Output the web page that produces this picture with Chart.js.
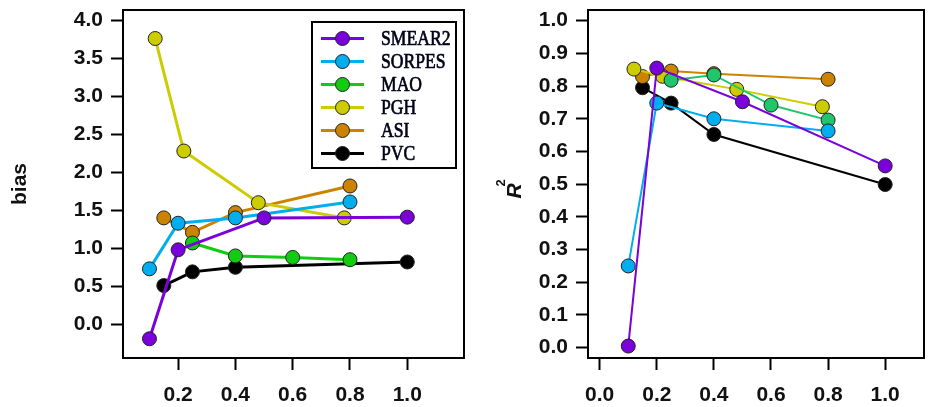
<!DOCTYPE html>
<html><head><meta charset="utf-8">
<script src="https://cdn.jsdelivr.net/npm/chart.js@4"></script>
<style>
html,body{margin:0;padding:0;background:#fff;}
#wrap{position:relative;width:932px;height:407px;overflow:hidden;background:#fff;}
#c1{position:absolute;left:0;top:0;}
#c2{position:absolute;left:468px;top:0;}
</style></head><body>
<div id="wrap"><canvas id="c1" width="472" height="407"></canvas><canvas id="c2" width="464" height="407"></canvas></div>
<script>
// ---- data ----
const seriesNames = ['SMEAR2', 'SORPES', 'MAO', 'PGH', 'ASI', 'PVC'];
const xSmear  = [0.10, 0.20, 0.50, 1.00];
const biasSmear = [-0.19, 0.98, 1.40, 1.41];
const r2Smear   = [0.005, 0.855, 0.752, 0.556];
const xSorpes = [0.10, 0.20, 0.40, 0.80];
const biasSorpes = [0.73, 1.33, 1.40, 1.61];
const r2Sorpes   = [0.25, 0.748, 0.70, 0.663];
const xMao = [0.25, 0.40, 0.60, 0.80];
const biasMao = [1.07, 0.90, 0.88, 0.85];
const r2Mao   = [0.818, 0.834, 0.742, 0.696];
const xPgh = [0.12, 0.22, 0.48, 0.78];
const biasPgh = [3.76, 2.28, 1.60, 1.40];
const r2Pgh   = [0.852, 0.830, 0.790, 0.737];
const xAsi = [0.15, 0.25, 0.40, 0.80];
const biasAsi = [1.40, 1.21, 1.47, 1.82];
const r2Asi   = [0.829, 0.846, 0.838, 0.821];
const xPvc = [0.15, 0.25, 0.40, 1.00];
const biasPvc = [0.51, 0.69, 0.75, 0.82];
const r2Pvc   = [0.795, 0.748, 0.652, 0.499];

const biasTicks = [0.0, 0.5, 1.0, 1.5, 2.0, 2.5, 3.0, 3.5, 4.0];
const r2Ticks = [0.0, 0.1, 0.2, 0.3, 0.4, 0.5, 0.6, 0.7, 0.8, 0.9, 1.0];
const xTicksLeft = [0.2, 0.4, 0.6, 0.8, 1.0];
const xTicksRight = [0.0, 0.2, 0.4, 0.6, 0.8, 1.0];

const colorsLeft  = ['#7a00dc', '#00aef0', '#12cc12', '#cccc00', '#cc8400', '#000000'];
const colorsRight = ['#7a00dc', '#00aef0', '#1fc76a', '#cccc00', '#cc8400', '#000000'];

const xs = [xSmear, xSorpes, xMao, xPgh, xAsi, xPvc];
const biasVals = [biasSmear, biasSorpes, biasMao, biasPgh, biasAsi, biasPvc];
const r2Vals = [r2Smear, r2Sorpes, r2Mao, r2Pgh, r2Asi, r2Pvc];

function pts(xArr, yArr) { return xArr.map((x, i) => ({x: x, y: yArr[i]})); }

function makeDatasets(vals, colors, lw) {
  return seriesNames.map((name, i) => ({
    label: name,
    data: pts(xs[i], vals[i]),
    borderColor: colors[i],
    backgroundColor: colors[i],
    pointBackgroundColor: colors[i],
    pointBorderColor: '#222',
    pointBorderWidth: 1,
    pointRadius: 7,
    borderWidth: lw,
    tension: 0,
    clip: false
  }));
}

const tickFont = {family: '"Liberation Sans", Arial, sans-serif', size: 21, weight: 'bold'};

function yScale(min, max, ticksArr, width, title) {
  return {
    type: 'linear', min: min, max: max,
    afterBuildTicks: s => { s.ticks = ticksArr.map(v => ({value: v})); },
    afterFit: s => { s.width = width; s.paddingTop = 0; s.paddingBottom = 0; },
    ticks: {font: tickFont, color: '#111', padding: 8, callback: v => Number(v).toFixed(1)},
    grid: {drawOnChartArea: false, drawTicks: true, tickLength: 12, tickWidth: 2, tickColor: '#000'},
    border: {display: true, color: '#000', width: 2},
    title: title
  };
}
function xScale(min, max, ticksArr) {
  return {
    type: 'linear', min: min, max: max,
    afterBuildTicks: s => { s.ticks = ticksArr.map(v => ({value: v})); },
    afterFit: s => { s.height = 49; s.paddingLeft = 0; s.paddingRight = 0; },
    ticks: {font: tickFont, color: '#111', padding: 13, maxRotation: 0, callback: v => Number(v).toFixed(1)},
    grid: {drawOnChartArea: false, drawTicks: true, tickLength: 12, tickWidth: 2, tickColor: '#000'},
    border: {display: true, color: '#000', width: 2}
  };
}

const framePlugin = {
  id: 'frameTR',
  beforeDatasetsDraw(chart) {
    const a = chart.chartArea, ctx = chart.ctx;
    ctx.save();
    ctx.strokeStyle = '#000'; ctx.lineWidth = 2;
    ctx.beginPath();
    ctx.moveTo(a.left, a.top); ctx.lineTo(a.right, a.top); ctx.lineTo(a.right, a.bottom);
    ctx.stroke();
    ctx.restore();
  }
};

const legendPlugin = {
  id: 'legendBox',
  afterDraw(chart) {
    const ctx = chart.ctx;
    ctx.save();
    ctx.fillStyle = '#fff';
    ctx.fillRect(312, 22, 144, 146);
    ctx.strokeStyle = '#000'; ctx.lineWidth = 2;
    ctx.strokeRect(312, 22, 144, 146);
    chart.data.datasets.forEach((ds, i) => {
      const y = 38.5 + i * 23;
      ctx.strokeStyle = ds.borderColor; ctx.lineWidth = 3;
      ctx.beginPath(); ctx.moveTo(321, y); ctx.lineTo(364, y); ctx.stroke();
      ctx.beginPath(); ctx.arc(342.5, y, 7, 0, Math.PI * 2);
      ctx.fillStyle = ds.pointBackgroundColor; ctx.fill();
      ctx.strokeStyle = '#222'; ctx.lineWidth = 1; ctx.stroke();
      ctx.save();
      ctx.translate(381, y + 1);
      ctx.scale(0.8, 1);
      ctx.font = '22px "Liberation Serif", "DejaVu Serif", serif';
      ctx.fillStyle = '#000018';
      ctx.strokeStyle = '#000018';
      ctx.lineWidth = 0.7;
      ctx.textBaseline = 'middle';
      ctx.fillText(ds.label, 0, 0);
      ctx.strokeText(ds.label, 0, 0);
      ctx.restore();
    });
    ctx.restore();
  }
};

const r2TitlePlugin = {
  id: 'r2Title',
  afterDraw(chart) {
    const ctx = chart.ctx;
    ctx.save();
    ctx.translate(47.5, 191);
    ctx.rotate(-Math.PI / 2);
    ctx.fillStyle = '#111';
    ctx.textAlign = 'center';
    ctx.textBaseline = 'middle';
    ctx.font = 'italic bold 21px "Liberation Sans", Arial, sans-serif';
    ctx.fillText('R', 0, 0);
    ctx.font = 'bold 13px "Liberation Sans", Arial, sans-serif';
    ctx.fillText('2', 8, -14);
    ctx.restore();
  }
};

const common = {
  responsive: false,
  animation: false,
  events: [],
  plugins: {legend: {display: false}, tooltip: {enabled: false}}
};

new Chart(document.getElementById('c1'), {
  type: 'line',
  data: {datasets: makeDatasets(biasVals, colorsLeft, 3)},
  options: Object.assign({}, common, {
    layout: {padding: {left: 0, right: 2, top: 10, bottom: 0}},
    scales: {
      x: xScale(0.0076, 1.198, xTicksLeft),
      y: yScale(-0.443, 4.135, biasTicks, 123, {
        display: true, text: 'bias', color: '#111',
        font: {family: '"Liberation Sans", Arial, sans-serif', size: 21, weight: 'bold'},
        padding: {top: 8, bottom: 0}
      })
    }
  }),
  plugins: [framePlugin, legendPlugin]
});

new Chart(document.getElementById('c2'), {
  type: 'line',
  data: {datasets: makeDatasets(r2Vals, colorsRight, 2)},
  options: Object.assign({}, common, {
    layout: {padding: {left: 0, right: 0, top: 10, bottom: 0}},
    scales: {
      x: xScale(-0.041, 1.136, xTicksRight),
      y: yScale(-0.0315, 1.0327, r2Ticks, 120, {display: false})
    }
  }),
  plugins: [framePlugin, r2TitlePlugin]
});
</script>
</body></html>
